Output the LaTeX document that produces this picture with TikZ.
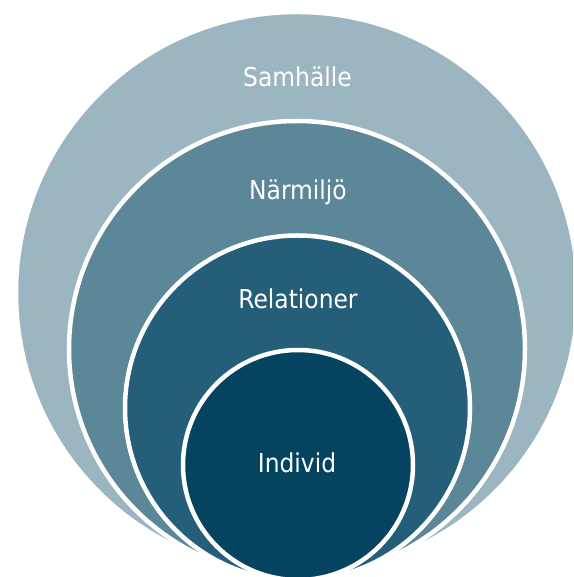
\documentclass[tikz,border=0pt]{standalone}
\usepackage{fontspec}
\setmainfont{DejaVu Sans Condensed}
\definecolor{ringA}{RGB}{155,181,193}
\definecolor{ringB}{RGB}{92,135,153}
\definecolor{ringC}{RGB}{37,94,120}
\definecolor{ringD}{RGB}{4,68,96}
\begin{document}
\begin{tikzpicture}[x=1pt,y=1pt,
  ring/.style={circle, draw=white, line width=4.5pt, inner sep=0pt, outer sep=0pt},
  lbl/.style={text=white, anchor=base, inner sep=0pt, font=\fontsize{26}{30}\selectfont}]
\useasboundingbox (0,0) rectangle (573,577);
\clip (0,0) rectangle (573,577);
\node[ring, fill=ringA, minimum size=562pt] (samhalle) at (297,284) {};
\node[ring, fill=ringB, minimum size=456pt] (narmiljo) at (297,228) {};
\node[ring, fill=ringC, minimum size=345pt] (relationer) at (297.5,169) {};
\node[ring, fill=ringD, minimum size=230pt] (individ) at (298,112) {};
\node[lbl] (t1) at (297.5,490) {Samhälle};
\node[lbl] (t2) at (298,377) {Närmiljö};
\node[lbl] (t3) at (298,268) {Relationer};
\node[lbl] (t4) at (297,104) {Individ};
\end{tikzpicture}
\end{document}
